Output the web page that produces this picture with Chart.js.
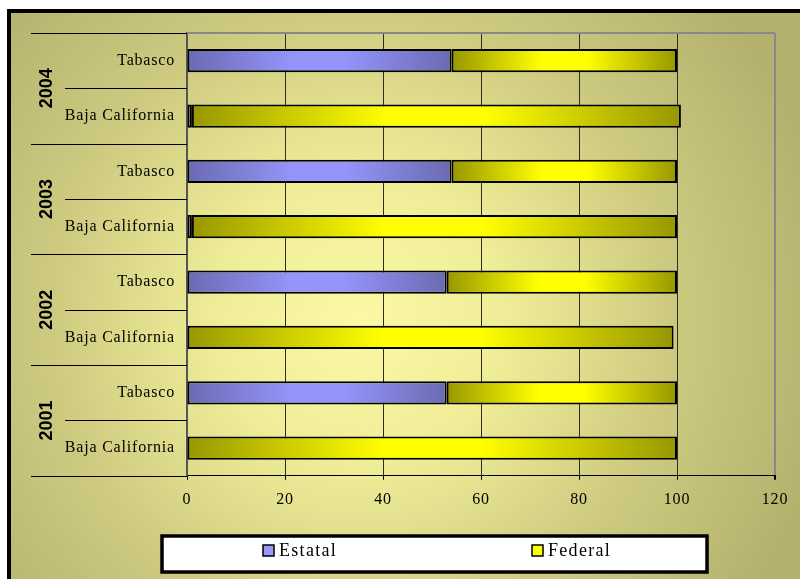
<!DOCTYPE html>
<html>
<head>
<meta charset="utf-8">
<script src="https://cdn.jsdelivr.net/npm/chart.js@4/dist/chart.umd.min.js"></script>
<style>
  html, body { margin: 0; padding: 0; background: #fff; }
  #wrap { width: 800px; height: 579px; position: relative; }
</style>
</head>
<body>
<div id="wrap"><canvas id="grafico" width="800" height="579"></canvas></div>
<script>
// datos
const years = ["2004", "2003", "2002", "2001"];
const categories = ["Tabasco", "Baja California", "Tabasco", "Baja California",
                    "Tabasco", "Baja California", "Tabasco", "Baja California"];
const estatal = [54, 1, 54, 1, 53, 0, 53, 0];
const federal = [46, 99.8, 46, 99, 47, 99.3, 47, 100];
const xTicks = [0, 20, 40, 60, 80, 100, 120];
const seriesNames = ["Estatal", "Federal"];

const SERIF = "'Liberation Serif', 'Times New Roman', serif";

// degradado horizontal por barra (oscuro en los extremos, claro al centro)
function barFill(ctx, outer, inner, federalSerie) {
    const chart = ctx.chart;
    if (!chart.chartArea || ctx.type !== "data") return outer;
    const i = ctx.dataIndex;
    const start = federalSerie ? estatal[i] : 0;
    const end = start + (federalSerie ? federal[i] : estatal[i]);
    const x0 = chart.scales.x.getPixelForValue(start);
    const x1 = chart.scales.x.getPixelForValue(end);
    if (x1 - x0 < 2) return inner;
    const g = chart.ctx.createLinearGradient(x0, 0, x1, 0);
    g.addColorStop(0, outer);
    g.addColorStop(0.4, inner);
    g.addColorStop(0.6, inner);
    g.addColorStop(1, outer);
    return g;
}

const fondo = {
    id: "fondo",
    beforeDraw(chart) {
        const c = chart.ctx;
        c.save();
        c.fillStyle = "#fff";
        c.fillRect(0, 0, chart.width, chart.height);
        const g = c.createRadialGradient(360, 320, 0, 360, 320, 480);
        g.addColorStop(0, "#fbf9a4");
        g.addColorStop(0.3, "#f0ed98");
        g.addColorStop(0.65, "#cdca80");
        g.addColorStop(1, "#b3b16d");
        c.fillStyle = g;
        c.fillRect(9, 11, chart.width, chart.height);
        c.strokeStyle = "#000";
        c.lineWidth = 4;
        c.strokeRect(9, 11, chart.width + 10, chart.height + 10);
        c.restore();
        chart.ctx.letterSpacing = "0.8px";
    },
    beforeDatasetsDraw(chart) {
        const c = chart.ctx, a = chart.chartArea;
        c.save();
        c.strokeStyle = "#888";
        c.lineWidth = 2;
        c.beginPath();
        c.moveTo(a.left, a.top);
        c.lineTo(a.right, a.top);
        c.stroke();
        c.restore();
    },
    afterDraw(chart) {
        const c = chart.ctx, ys = chart.scales.y, a = chart.chartArea;
        const half = (ys.getPixelForValue(1) - ys.getPixelForValue(0)) / 2;
        c.save();
        c.strokeStyle = "#000";
        c.lineWidth = 1;
        const line = (x0, y0, x1) => {
            c.beginPath();
            c.moveTo(x0, Math.round(y0) + 0.5);
            c.lineTo(x1, Math.round(y0) + 0.5);
            c.stroke();
        };
        years.forEach((yr, g) => {
            const top = ys.getPixelForValue(g * 2) - half;
            const mid = ys.getPixelForValue(g * 2) + half;
            const bottom = ys.getPixelForValue(g * 2 + 1) + half;
            line(31, top, a.left);
            line(65, mid, a.left);
            if (g === years.length - 1) line(31, bottom, a.left);
            c.save();
            c.translate(46, mid);
            c.rotate(-Math.PI / 2);
            c.letterSpacing = "0px";
            c.font = "bold 18px 'Liberation Sans', Arial, sans-serif";
            c.fillStyle = "#000";
            c.textAlign = "center";
            c.textBaseline = "middle";
            c.fillText(yr, 0, 1);
            c.restore();
        });

        // leyenda
        const lx = 162, ly = 536, lw = 545, lh = 36;
        c.fillStyle = "#fff";
        c.fillRect(lx, ly, lw, lh);
        c.strokeStyle = "#000";
        c.lineWidth = 3.5;
        c.strokeRect(lx, ly, lw, lh);
        const items = [
            { x: 263, color: "#9999ff" },
            { x: 532, color: "#ffff00" }
        ];
        c.font = "18px " + SERIF;
        c.letterSpacing = "1.3px";
        c.textBaseline = "middle";
        c.textAlign = "left";
        items.forEach((it, k) => {
            c.fillStyle = it.color;
            c.fillRect(it.x, 545, 11, 11);
            c.strokeStyle = "#000";
            c.lineWidth = 1.5;
            c.strokeRect(it.x, 545, 11, 11);
            c.fillStyle = "#000";
            c.fillText(seriesNames[k], it.x + 16, 551);
        });
        c.restore();
    }
};

new Chart(document.getElementById("grafico"), {
    type: "bar",
    data: {
        labels: categories,
        datasets: [
            {
                label: seriesNames[0],
                data: estatal,
                backgroundColor: ctx => barFill(ctx, "#6a6ab2", "#9494fa", false),
                borderColor: "#000",
                borderWidth: 2,
                borderSkipped: false
            },
            {
                label: seriesNames[1],
                data: federal,
                backgroundColor: ctx => barFill(ctx, "#979700", "#ffff00", true),
                borderColor: "#000",
                borderWidth: 2,
                borderSkipped: false
            }
        ]
    },
    options: {
        indexAxis: "y",
        responsive: false,
        animation: false,
        devicePixelRatio: 1,
        layout: { padding: { top: 33, right: 25, bottom: 60, left: 0 } },
        categoryPercentage: 1,
        barPercentage: 0.42,
        plugins: {
            legend: { display: false },
            tooltip: { enabled: false }
        },
        scales: {
            x: {
                stacked: true,
                min: 0,
                max: 120,
                afterBuildTicks: s => { s.ticks = xTicks.map(v => ({ value: v })); },
                ticks: {
                    color: "#000",
                    padding: 10,
                    font: { family: SERIF, size: 16 }
                },
                grid: {
                    color: ctx => ctx.tick && ctx.tick.value === 120 ? "#888" : "#2e2e1e",
                    lineWidth: ctx => ctx.tick && ctx.tick.value === 120 ? 2 : 1,
                    tickColor: "#000",
                    tickLength: 4
                },
                border: { color: "#000", width: 1 }
            },
            y: {
                stacked: true,
                afterFit: s => { s.width = 187; },
                ticks: {
                    color: "#000",
                    padding: 12,
                    font: { family: SERIF, size: 16 }
                },
                grid: { display: false, drawTicks: false },
                border: { color: "#555", width: 2 }
            }
        }
    },
    plugins: [fondo]
});
</script>
</body>
</html>
